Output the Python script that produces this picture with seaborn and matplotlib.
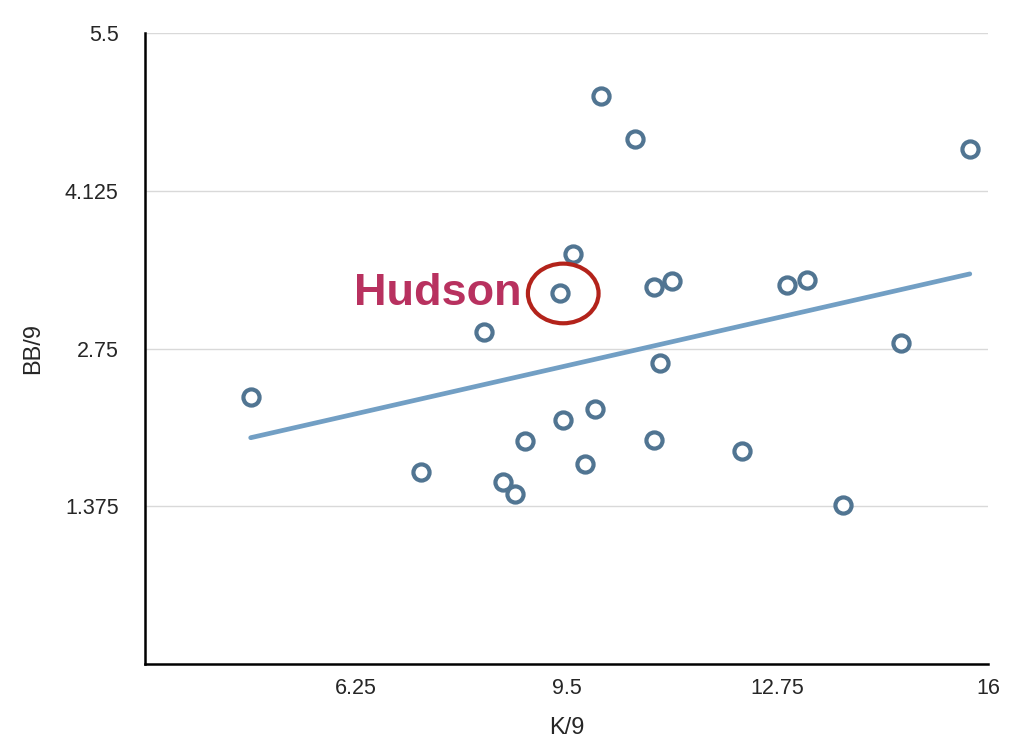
import numpy as np
import pandas as pd
import matplotlib
matplotlib.use("Agg")
import matplotlib.pyplot as plt
import seaborn as sns
from matplotlib.patches import Ellipse

# K/9 and BB/9 per pitcher
k9 = [4.63, 7.26, 8.23, 8.52, 8.71, 8.86, 9.40, 9.45, 9.60, 9.78, 9.94, 10.03,
      10.56, 10.85, 10.85, 10.94, 11.13, 12.21, 12.90, 13.21, 13.76, 14.66, 15.72]
bb9 = [2.33, 1.67, 2.89, 1.59, 1.48, 1.94, 3.23, 2.13, 3.57, 1.74, 2.22, 4.95,
       4.58, 3.29, 1.95, 2.62, 3.34, 1.86, 3.30, 3.35, 1.39, 2.80, 4.49]
highlight_idx = 6
highlight_name = "Hudson"

x_ticks = [6.25, 9.5, 12.75, 16]
y_ticks = [1.375, 2.75, 4.125, 5.5]

df = pd.DataFrame({"K/9": k9, "BB/9": bb9})

sns.set_style("white")
plt.rcParams['font.family'] = ['Liberation Sans', 'DejaVu Sans']

fig = plt.figure(figsize=(10.24, 7.56), dpi=100)
ax = fig.add_axes([0.1416, 0.1217, 0.8232, 0.8346])

sns.regplot(data=df, x="K/9", y="BB/9", ax=ax, ci=None,
            scatter_kws=dict(s=135, facecolors="white", edgecolors="#517592",
                             linewidths=3.0, alpha=1, zorder=4),
            line_kws=dict(color="#729fc4", lw=3.4, zorder=3))

# highlight one pitcher
hx, hy = k9[highlight_idx], bb9[highlight_idx]
ax.add_patch(Ellipse((hx + 0.05, hy), width=1.09, height=0.52, fill=False,
                     edgecolor="#b3231b", lw=3, zorder=5))
ax.text(hx - 0.6, hy, highlight_name, ha="right", va="center",
        fontsize=32.5, fontweight="bold", color="#b8315f", zorder=5)

ax.set_xlim(3, 16)
ax.set_ylim(0, 5.5)
ax.set_xticks(x_ticks)
ax.set_xticklabels(["6.25", "9.5", "12.75", "16"])
ax.set_yticks(y_ticks)
ax.set_yticklabels(["1.375", "2.75", "4.125", "5.5"])
ax.yaxis.grid(True, color="#d9d9d9", lw=1)
ax.xaxis.grid(False)
ax.tick_params(axis="x", length=0, pad=10, labelsize=15.5)
ax.tick_params(axis="y", length=0, pad=19, labelsize=15.5)
for side in ["top", "right"]:
    ax.spines[side].set_visible(False)
for side in ["left", "bottom"]:
    ax.spines[side].set_color("black")
    ax.spines[side].set_linewidth(1.8)
ax.set_xlabel("K/9", fontsize=17, labelpad=13)
ax.set_ylabel("BB/9", fontsize=17, labelpad=15)

fig.savefig("out.png", dpi=100)
